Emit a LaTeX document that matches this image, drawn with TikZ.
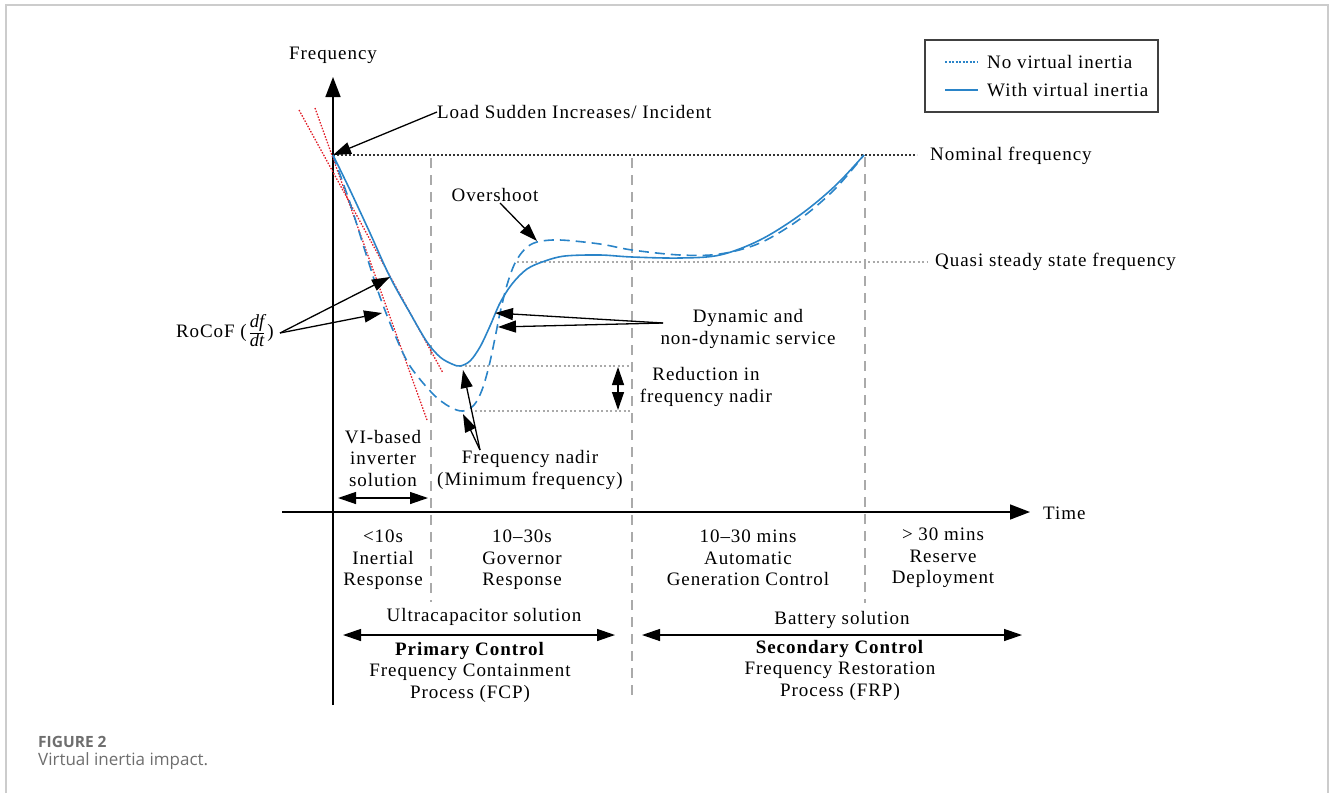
\documentclass[tikz,border=0pt]{standalone}
\usepackage{fontspec}
\setmainfont[LetterSpace=5]{Liberation Serif}
\newfontfamily\capfont{Open Sans}
\newfontfamily\fracfont{Liberation Serif}
\usetikzlibrary{arrows.meta}
\definecolor{curve}{RGB}{42,132,200}
\definecolor{framegray}{RGB}{204,204,204}
\definecolor{guide}{RGB}{170,170,170}
\definecolor{tangent}{RGB}{225,30,40}
\definecolor{captxt}{RGB}{110,110,110}
\begin{document}
\begin{tikzpicture}[x=1pt,y=-1pt,
  lbl/.style={inner sep=0pt, font=\fontsize{19}{21.5}\selectfont, align=center},
  arr/.style={line width=1.3pt, -{Triangle[length=18pt,width=12pt]}},
  darr/.style={line width=1.3pt, {Triangle[length=18pt,width=12pt]}-{Triangle[length=18pt,width=12pt]}},
  axisline/.style={line width=1.5pt, -{Triangle[length=20pt,width=15pt]}},
  phase/.style={guide, line width=1.5pt, dash pattern=on 10pt off 7pt},
  level/.style={guide, line width=1.2pt, dash pattern=on 2pt off 2.5pt},
  nominal/.style={black!80, line width=1.5pt, dash pattern=on 2pt off 2pt},
  tangentline/.style={tangent, line width=1.3pt, dash pattern=on 1.5pt off 1.5pt},
  withvi/.style={curve, line width=1.6pt},
  novi/.style={curve, line width=1.6pt, dash pattern=on 10pt off 6pt},
]
\useasboundingbox (0,0) rectangle (1330,793);
\draw[framegray, line width=2pt] (6,793) -- (6,5) -- (1328,5) -- (1328,793);

% axes
\coordinate (ytop) at (333,77);
\coordinate (ybot) at (333,705);
\coordinate (xleft) at (282,512);
\coordinate (xright) at (1030,512);
\draw[axisline] (ybot) -- (ytop);
\draw[axisline] (xleft) -- (xright);
\node[lbl] (freq) at (333,55) {Frequency};
\node[lbl, anchor=west] (time) at (1043,513) {Time};

% phase separators
\draw[phase] (431,158) -- (431,602);
\draw[phase] (632,158) -- (632,702);
\draw[phase] (865,157) -- (865,603);

% reference levels
\coordinate (start) at (333,155);
\coordinate (nomend) at (917,155);
\draw[nominal] (start) -- (nomend);
\node[lbl, anchor=west] (nom) at (930,156) {Nominal frequency};
\coordinate (qs1) at (517,262);
\coordinate (qs2) at (927,262);
\draw[level] (qs1) -- (qs2);
\node[lbl, anchor=west] (quasi) at (935,262) {Quasi steady state frequency};
\coordinate (nadA) at (460,366);
\coordinate (nadB) at (475,411);
\draw[level] (nadA) -- (632,366);
\draw[level] (nadB) -- (632,411);

% tangents
\draw[tangentline] (315,108) -- (427,420);
\draw[tangentline] (299,110) -- (443,373);

% curves
\draw[novi] plot[smooth, tension=0.55] coordinates {(333,155) (350,203) (366,254) (380,297) (395,335) (410,366) (433,394) (450,407) (463,411) (474,405) (482,390) (489,366) (495,338) (500,313) (507,285) (515,263) (525,249) (537,242) (560,240) (600,244) (632,250) (680,255) (720,254) (760,243) (800,219) (835,189) (864,155)};
\draw[withvi] plot[smooth, tension=0.55] coordinates {(333,155) (350,190) (370,233) (390,277) (410,313) (427,342) (440,357) (452,364) (460,366) (470,361) (480,347) (490,326) (500,303) (512,284) (527,269) (545,261) (565,256) (600,255) (632,257) (680,258) (720,255) (760,240) (800,215) (835,186) (864,155)};

% legend
\draw[line width=1.5pt, black!75] (925,40) rectangle (1158,112);
\draw[curve, line width=1.3pt, dash pattern=on 2pt off 1.5pt] (945,62) -- (978,62);
\node[lbl, anchor=west] (lg1) at (987,62) {No virtual inertia};
\draw[withvi] (945,90) -- (978,90);
\node[lbl, anchor=west] (lg2) at (987,90) {With virtual inertia};

% load increase
\node[lbl, anchor=west] (load) at (437,112) {Load Sudden Increases/ Incident};
\draw[arr] (load.west) -- (start);

% RoCoF
\node[lbl, anchor=east] (rocof) at (274,333) {RoCoF (\,{\fracfont\fontsize{18.5}{18.5}\selectfont\renewcommand{\arraystretch}{0.95}\setlength{\arrayrulewidth}{0.8pt}\begin{tabular}{@{}c@{}}\itshape df\\\hline\itshape dt\end{tabular}}\,)};
\coordinate (rocS) at (280,333);
\coordinate (rocT1) at (390,277);
\coordinate (rocT2) at (382,313);
\draw[arr] (rocS) -- (rocT1);
\draw[arr] (rocS) -- (rocT2);

% overshoot
\node[lbl] (over) at (495,195) {Overshoot};
\coordinate (overS) at (500,203);
\coordinate (overT) at (537,241);
\draw[arr] (overS) -- (overT);

% dynamic service
\node[lbl] (dyn) at (748,329) {Dynamic and\\non-dynamic service};
\coordinate (dynS) at (663,323);
\coordinate (dynT1) at (495,313);
\coordinate (dynT2) at (498,327);
\draw[arr] (dynS) -- (dynT1);
\draw[arr] (dynS) -- (dynT2);

% reduction in nadir
\node[lbl] (red) at (706,387) {Reduction in\\frequency nadir};
\coordinate (redA) at (618,367);
\coordinate (redB) at (618,410);
\draw[darr] (redA) -- (redB);

% frequency nadir
\node[lbl] (nadir) at (530,470) {Frequency nadir\\(Minimum frequency)};
\coordinate (nadS) at (480,450);
\coordinate (nadT1) at (463,370);
\coordinate (nadT2) at (463,414);
\draw[arr] (nadS) -- (nadT1);
\draw[arr] (nadS) -- (nadT2);

% VI-based inverter
\node[lbl] (vi) at (383,458) {VI-based\\inverter\\solution};
\coordinate (viA) at (338,498);
\coordinate (viB) at (428,498);
\draw[darr] (viA) -- (viB);

% time bands
\node[lbl] (p1) at (383,560) {<10s\\Inertial\\Response};
\node[lbl] (p2) at (522,560) {10–30s\\Governor\\Response};
\node[lbl] (p3) at (748,558) {10–30 mins\\Automatic\\Generation Control};
\node[lbl] (p4) at (943,558) {> 30 mins\\Reserve\\Deployment};

% primary / secondary
\node[lbl] (ultra) at (484,617) {Ultracapacitor solution};
\coordinate (primA) at (343,635);
\coordinate (primB) at (615,635);
\draw[darr] (primA) -- (primB);
\node[lbl] (prim) at (470,672) {\textbf{Primary Control}\\Frequency Containment\\Process (FCP)};
\node[lbl] (batt) at (842,620) {Battery solution};
\coordinate (secA) at (642,635);
\coordinate (secB) at (1022,635);
\draw[darr] (secA) -- (secB);
\node[lbl] (sec) at (840,670) {\textbf{Secondary Control}\\Frequency Restoration\\Process (FRP)};

% caption
\node[anchor=west, inner sep=0pt, text=captxt, font=\capfont\fontsize{15.5}{18}\selectfont\bfseries] (fig) at (38,742) {FIGURE 2};
\node[anchor=west, inner sep=0pt, text=captxt, font=\capfont\fontsize{17}{20}\selectfont] (cap) at (38,761) {Virtual inertia impact.};
\end{tikzpicture}
\end{document}
